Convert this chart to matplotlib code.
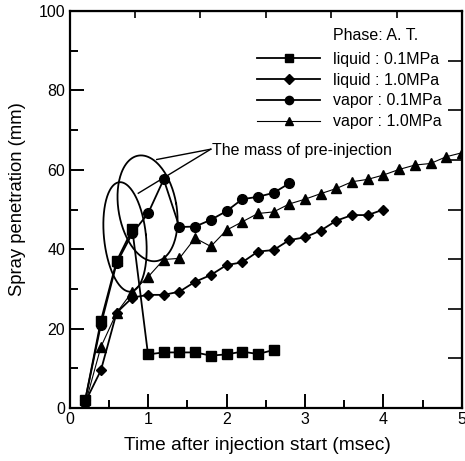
import numpy as np
import matplotlib
matplotlib.use("Agg")
import matplotlib.pyplot as plt

plt.rcParams['font.family'] = ['Liberation Sans', 'DejaVu Sans']

# data (time in msec, penetration in mm)
t_liq_01 = [0.2, 0.4, 0.6, 0.8, 1.0, 1.2, 1.4, 1.6, 1.8, 2.0, 2.2, 2.4, 2.6]
s_liq_01 = [2, 22, 37, 45, 13.5, 14, 14, 14, 13.2, 13.5, 14.2, 13.6, 14.6]

t_liq_10 = [0.2, 0.4, 0.6, 0.8, 1.0, 1.2, 1.4, 1.6, 1.8, 2.0,
            2.2, 2.4, 2.6, 2.8, 3.0, 3.2, 3.4, 3.6, 3.8, 4.0]
s_liq_10 = [1.5, 9.5, 24, 27.8, 28.5, 28.5, 29.3, 31.8, 33.5, 36,
            36.7, 39.4, 39.8, 42.3, 43, 44.7, 47.2, 48.6, 48.6, 50]

t_vap_01 = [0.2, 0.4, 0.6, 0.8, 1.0, 1.2, 1.4, 1.6, 1.8, 2.0, 2.2, 2.4, 2.6, 2.8]
s_vap_01 = [2, 21, 36.5, 44, 49, 57.6, 45.6, 45.7, 47.4, 49.6, 52.6, 53.2, 54.2, 56.6]

t_vap_10 = [0.2, 0.4, 0.6, 0.8, 1.0, 1.2, 1.4, 1.6, 1.8, 2.0, 2.2, 2.4, 2.6,
            2.8, 3.0, 3.2, 3.4, 3.6, 3.8, 4.0, 4.2, 4.4, 4.6, 4.8, 5.0]
s_vap_10 = [1, 15.4, 24, 29.3, 33, 37.4, 37.7, 42.8, 40.7, 44.8, 46.9, 49, 49.4,
            51.4, 52.6, 54, 55.3, 57, 57.6, 58.7, 60.1, 61.2, 61.6, 63.3, 64.3]

labels = ['liquid : 0.1MPa', 'liquid : 1.0MPa', 'vapor : 0.1MPa', 'vapor : 1.0MPa']

# ellipses around the pre-injection points: center (x, y), half-sizes in pixels, tilt (deg)
ellipses = [((0.707, 43.1), 21, 55, 6), ((0.994, 50.3), 29, 53.5, 10)]
note_xy = (1.80, 65.2)
note_targets = [(1.111, 62.6), (0.876, 54.1)]

fig = plt.figure(figsize=(4.65, 4.61), dpi=100)
ax = fig.add_axes([0.1495, 0.115, 0.844, 0.861])

lw = 1.3
ax.plot(t_liq_01, s_liq_01, '-', color='black', lw=lw, marker='s', ms=7, label=labels[0])
ax.plot(t_liq_10, s_liq_10, '-', color='black', lw=lw, marker='D', ms=5.5, label=labels[1])
ax.plot(t_vap_01, s_vap_01, '-', color='black', lw=lw, marker='o', ms=7, label=labels[2])
ax.plot(t_vap_10, s_vap_10, '-', color='black', lw=0.8, marker='^', ms=7.5, label=labels[3])

ax.set_xlim(0, 5)
ax.set_ylim(0, 100)
ax.set_xticks([0, 1, 2, 3, 4, 5])
ax.set_xticks(np.arange(0.5, 5, 1.0), minor=True)
ax.set_yticks([0, 20, 40, 60, 80, 100])
ax.set_yticks([10, 30, 50, 70, 90], minor=True)
ax.tick_params(which='major', direction='in', length=10, width=1.4, labelsize=11.5, pad=3)
ax.tick_params(which='minor', direction='in', length=6, width=1.4)
for sp in ax.spines.values():
    sp.set_linewidth(1.6)

# extra tick marks on top and right edges
top = ax.secondary_xaxis('top')
top.set_xticks(np.arange(1, 6) * 5 / 6)
top.tick_params(direction='in', length=5, width=1.2, labeltop=False)
right = ax.secondary_yaxis('right')
right.set_yticks(np.arange(1, 8) * 12.5)
right.tick_params(direction='in', length=10, width=1.2, labelright=False)

ax.set_xlabel('Time after injection start (msec)', fontsize=13.8)
ax.xaxis.set_label_coords(0.479, -0.072)
ax.set_ylabel('Spray penetration (mm)', fontsize=13.3)
ax.yaxis.set_label_coords(-0.11, 0.526)

# ellipses drawn in pixel-proportional units so the tilt looks right
bb = ax.get_position()
px_x = bb.width * fig.get_figwidth() * fig.dpi / 5.0
px_y = bb.height * fig.get_figheight() * fig.dpi / 100.0
phi = np.linspace(0, 2 * np.pi, 200)
for (cx, cy), a, b, ang in ellipses:
    th = np.deg2rad(ang)
    u = a * np.cos(phi)
    v = b * np.sin(phi)
    ur = u * np.cos(th) - v * np.sin(th)
    vr = u * np.sin(th) + v * np.cos(th)
    ax.plot(cx + ur / px_x, cy + vr / px_y, color='black', lw=1.3)

for tx, ty in note_targets:
    ax.plot([tx, note_xy[0]], [ty, note_xy[1]], color='black', lw=1.0)
ax.text(note_xy[0] + 0.02, note_xy[1] - 0.4, 'The mass of pre-injection', fontsize=11.5,
        va='center', ha='left')

ax.text(0.671, 0.9395, 'Phase: A. T.', transform=ax.transAxes, fontsize=11.5,
        va='center', ha='left')
ax.legend(loc='upper left', bbox_to_anchor=(0.478, 0.897), frameon=False,
          borderaxespad=0, borderpad=0, fontsize=11.5, handlelength=3.95,
          handletextpad=0.8, labelspacing=0.36, markerscale=0.85)

fig.savefig('out.png', dpi=100)
